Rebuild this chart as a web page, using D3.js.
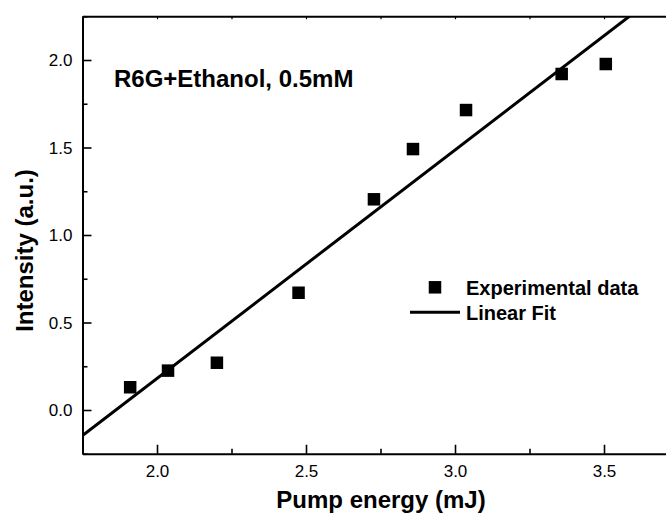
<!DOCTYPE html>
<html>
<head>
<meta charset="utf-8">
<script src="https://cdn.jsdelivr.net/npm/d3@7/dist/d3.min.js"></script>
<style>
  html, body { margin: 0; padding: 0; background: #fff; }
  svg { display: block; }
  text { font-family: "Liberation Sans", Arial, Helvetica, sans-serif; fill: #000; }
</style>
</head>
<body>
<svg id="chart" width="666" height="520"></svg>
<script>
// ---- data ----
const pumpEnergy = [1.910, 2.037, 2.201, 2.475, 2.728, 2.859, 3.037, 3.358, 3.506];
const intensity  = [0.130, 0.225, 0.270, 0.670, 1.204, 1.491, 1.714, 1.920, 1.977];
const xMajorTicks = [2.0, 2.5, 3.0, 3.5];
const xMinorTicks = [1.75, 2.25, 2.75, 3.25, 3.75];
const yMajorTicks = [0.0, 0.5, 1.0, 1.5, 2.0];
const yMinorTicks = [-0.25, 0.25, 0.75, 1.25, 1.75, 2.25];
const xDomain = [1.75, 3.75];
const yDomain = [-0.25, 2.25];
const annotation = "R6G+Ethanol, 0.5mM";
const legendLabels = ["Experimental data", "Linear Fit"];
const xTitle = "Pump energy (mJ)";
const yTitle = "Intensity (a.u.)";

// ---- layout ----
const svg = d3.select("#chart");
const L = 82.5, R = 678.5, T = 16.25, B = 453.75;
const x = d3.scaleLinear().domain(xDomain).range([L, R]);
const y = d3.scaleLinear().domain(yDomain).range([B, T]);

// linear least-squares fit
const n = pumpEnergy.length;
const mx = d3.mean(pumpEnergy), my = d3.mean(intensity);
let sxy = 0, sxx = 0;
for (let i = 0; i < n; i++) { sxy += (pumpEnergy[i]-mx)*(intensity[i]-my); sxx += (pumpEnergy[i]-mx)**2; }
const slope = sxy / sxx, intercept = my - slope * mx;

svg.append("defs").append("clipPath").attr("id", "clip")
  .append("rect").attr("x", L).attr("y", T).attr("width", R - L).attr("height", B - T);

// fit line
const fitPts = xDomain.map(v => [v, intercept + slope * v]);
svg.append("path")
  .attr("clip-path", "url(#clip)")
  .attr("d", d3.line().x(d => x(d[0])).y(d => y(d[1]))(fitPts))
  .attr("stroke", "#000").attr("stroke-width", 3).attr("fill", "none");

// points
const S = 12.5;
svg.append("g").selectAll("rect").data(d3.zip(pumpEnergy, intensity)).join("rect")
  .attr("x", d => x(d[0]) - S/2).attr("y", d => y(d[1]) - S/2)
  .attr("width", S).attr("height", S).attr("fill", "#000");

// axes
const axisW = 2;
// bottom
const bAxis = svg.append("g").attr("transform", `translate(0,${B})`)
  .call(d3.axisBottom(x).tickValues(xMajorTicks).tickSize(-9).tickSizeOuter(0).tickFormat(d3.format(".1f")));
bAxis.select(".domain").attr("stroke-width", axisW);
bAxis.selectAll(".tick line").attr("stroke-width", 1.6);
bAxis.selectAll(".tick text").attr("y", 0).attr("dy", 0)
  .attr("transform", "translate(0,23.5)").style("font-size", "17px");
svg.append("g").attr("transform", `translate(0,${B})`)
  .call(d3.axisBottom(x).tickValues(xMinorTicks).tickSize(-5).tickSizeOuter(0).tickFormat(""))
  .call(g => g.select(".domain").remove())
  .selectAll(".tick line").attr("stroke-width", 1.6);

// left
const lAxis = svg.append("g").attr("transform", `translate(${L},0)`)
  .call(d3.axisLeft(y).tickValues(yMajorTicks).tickSize(-9).tickSizeOuter(0).tickFormat(d3.format(".1f")));
lAxis.select(".domain").attr("stroke-width", axisW);
lAxis.selectAll(".tick line").attr("stroke-width", 1.6);
lAxis.selectAll(".tick text").attr("x", -10).attr("dy", "0.35em").style("font-size", "17px");
svg.append("g").attr("transform", `translate(${L},0)`)
  .call(d3.axisLeft(y).tickValues(yMinorTicks).tickSize(-5).tickSizeOuter(0).tickFormat(""))
  .call(g => g.select(".domain").remove())
  .selectAll(".tick line").attr("stroke-width", 1.6);

// top
const tAxis = svg.append("g").attr("transform", `translate(0,${T})`)
  .call(d3.axisTop(x).tickValues(xMajorTicks.concat(xMinorTicks)).tickSize(-3).tickSizeOuter(0).tickFormat(""));
tAxis.select(".domain").attr("stroke-width", axisW);
tAxis.selectAll(".tick line").attr("stroke-width", 1.2);
// right
const rAxis = svg.append("g").attr("transform", `translate(${R},0)`)
  .call(d3.axisRight(y).tickValues(yMajorTicks.concat(yMinorTicks)).tickSize(-3).tickSizeOuter(0).tickFormat(""));
rAxis.select(".domain").attr("stroke-width", axisW);

// axis titles
svg.append("text").attr("x", 381).attr("y", 508).attr("text-anchor", "middle")
  .style("font-size", "24px").style("font-weight", "bold").text(xTitle);
svg.append("text").attr("transform", `translate(33,${250.5}) rotate(-90)`).attr("text-anchor", "middle")
  .style("font-size", "24px").style("font-weight", "bold").text(yTitle);

// annotation
svg.append("text").attr("x", 114).attr("y", 87)
  .style("font-size", "24px").style("font-weight", "bold").text(annotation);

// legend
svg.append("rect").attr("x", 435 - S/2).attr("y", 287.3 - S/2).attr("width", S).attr("height", S).attr("fill", "#000");
svg.append("text").attr("x", 466).attr("y", 295).style("font-size", "20px").style("font-weight", "bold").text(legendLabels[0]);
svg.append("line").attr("x1", 410).attr("x2", 460).attr("y1", 312.3).attr("y2", 312.3)
  .attr("stroke", "#000").attr("stroke-width", 3);
svg.append("text").attr("x", 466).attr("y", 320).style("font-size", "20px").style("font-weight", "bold").text(legendLabels[1]);
</script>
</body>
</html>
